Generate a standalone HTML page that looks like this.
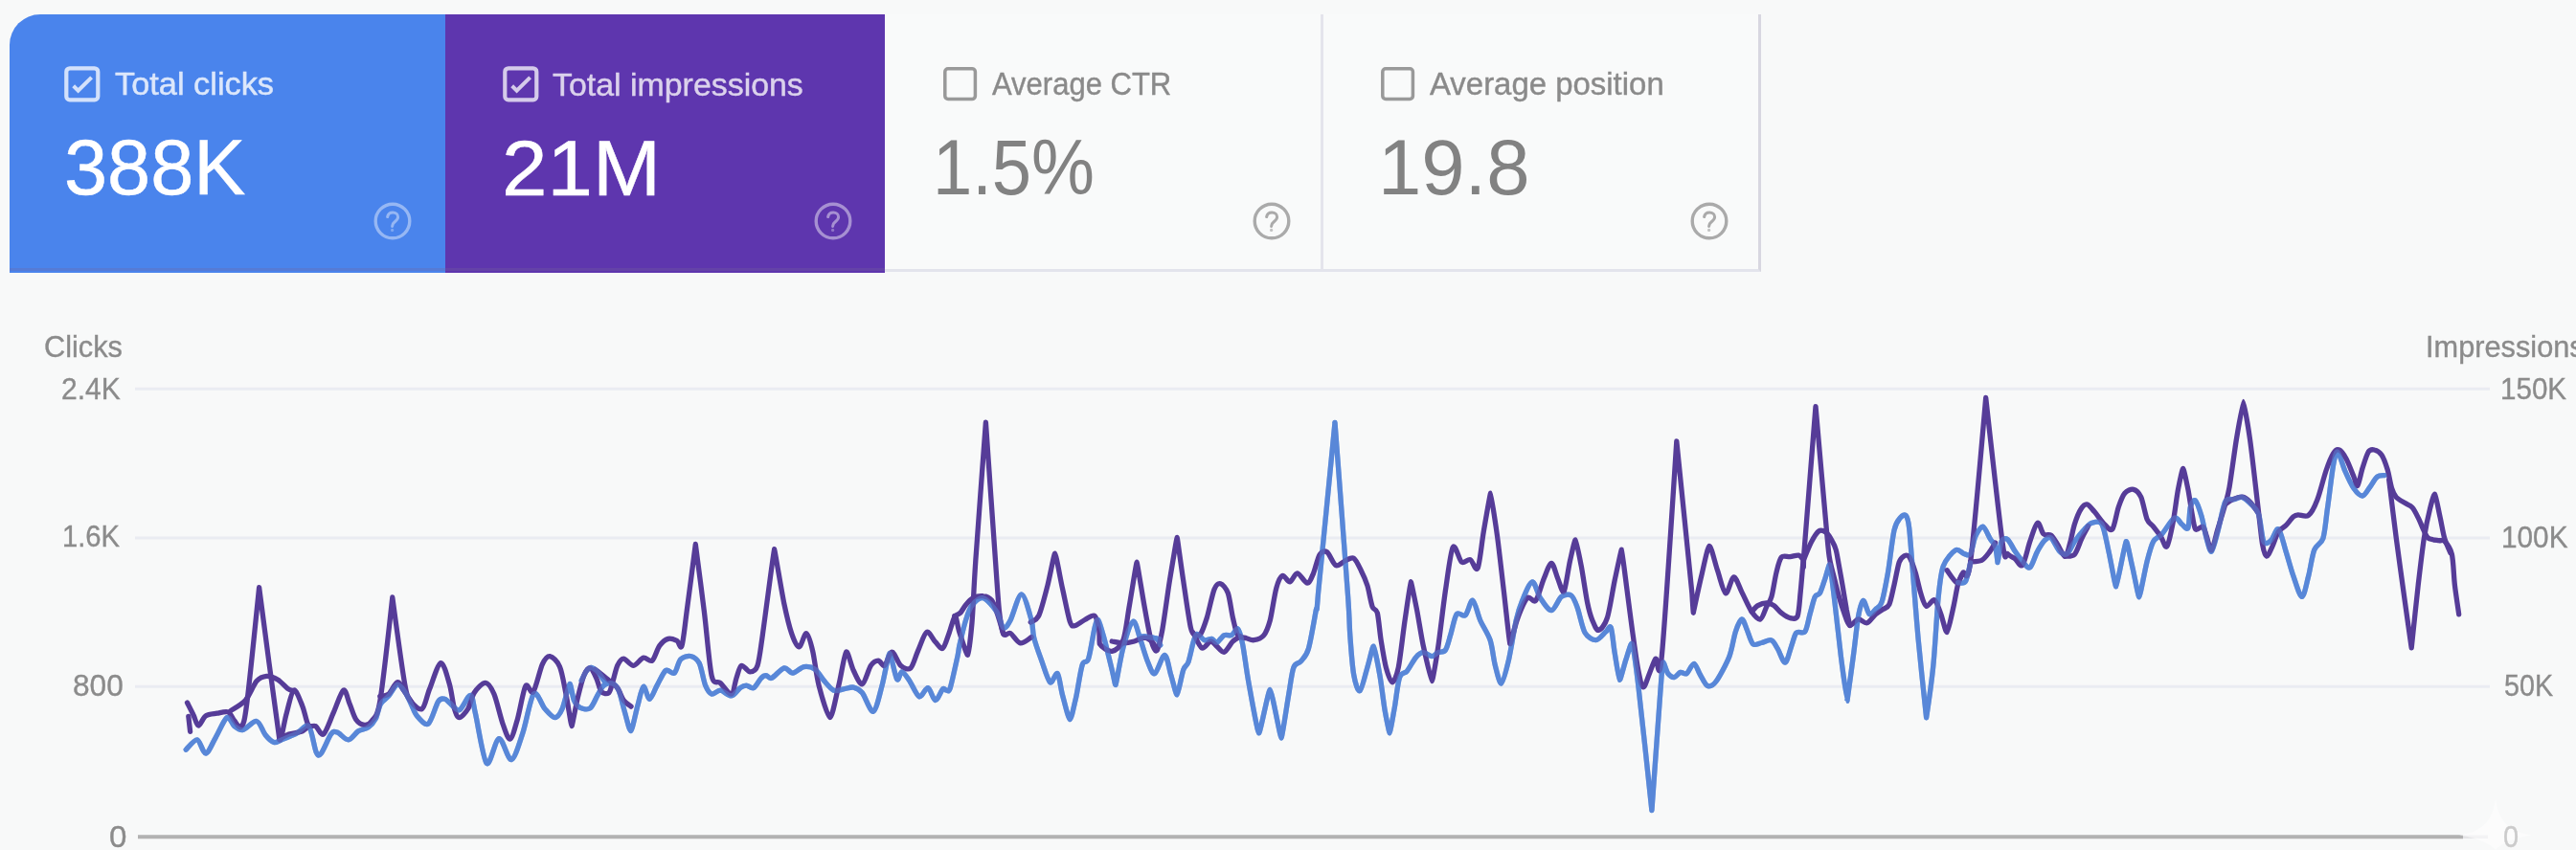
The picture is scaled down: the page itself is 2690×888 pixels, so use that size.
<!DOCTYPE html>
<html lang="en">
<head>
<meta charset="utf-8">
<title>Search Console Performance</title>
<style>
html,body{margin:0;padding:0;}
body{width:2690px;height:888px;overflow:hidden;background:#f8f9f9;font-family:"Liberation Sans",sans-serif;position:relative;}
.card{position:absolute;top:14.8px;height:269.4px;box-sizing:border-box;}
.c1,.c2{height:270.4px;}
.c1{left:10.4px;width:454.6px;background:#4a84ec;border-top-left-radius:32px;}
.c2{left:465px;width:458.8px;background:#5e36ae;}
.c3{left:923.8px;width:458px;border-bottom:3px solid #e3e4ec;border-right:3px solid #e4e4ec;background:#f9fafa;}
.c4{left:1381.8px;width:457.2px;border-bottom:3px solid #e3e4ec;border-right:3px solid #d8d7e0;background:#f9fafa;}
.t{position:absolute;line-height:1;white-space:nowrap;transform-origin:0 0;filter:blur(.45px);z-index:2;}
#chart .ln{filter:blur(.6px);}
svg{position:absolute;}
</style>
</head>
<body>
<div class="card c1"></div>
<div class="card c2"></div>
<div class="card c3"></div>
<div class="card c4"></div>
<div style="position:absolute;left:10.4px;top:280.3px;width:913.4px;height:2.8px;background:rgba(120,100,150,.26)"></div>
<svg style="left:67.1px;top:69.3px" width="38" height="38" viewBox="0 0 38 38"><g fill="none" stroke="#fff" stroke-opacity=".76"><rect x="2.3" y="2.3" width="33" height="33" rx="3.6" stroke-width="4.2"/><path d="M9.7 20.8 L14.6 25.6 L28.6 11.8" stroke-width="4"/></g></svg><svg style="left:524.6px;top:69.0px" width="38" height="38" viewBox="0 0 38 38"><g fill="none" stroke="#fff" stroke-opacity=".74"><rect x="2.3" y="2.3" width="33" height="33" rx="3.6" stroke-width="4.2"/><path d="M9.7 20.8 L14.6 25.6 L28.6 11.8" stroke-width="4"/></g></svg><svg style="left:985.3px;top:70.0px" width="36" height="36" viewBox="0 0 36 36"><rect x="1.8" y="1.8" width="31.6" height="31.6" rx="3.2" fill="none" stroke="#999" stroke-opacity="1" stroke-width="3.5"/></svg><svg style="left:1442.2px;top:70.0px" width="36" height="36" viewBox="0 0 36 36"><rect x="1.8" y="1.8" width="31.6" height="31.6" rx="3.2" fill="none" stroke="#999" stroke-opacity="1" stroke-width="3.5"/></svg>
<svg style="left:389.2px;top:210.2px" width="42" height="42" viewBox="0 0 42 42"><g fill="none" stroke="#fff" stroke-opacity=".42" stroke-width="3.4" stroke-linecap="round"><circle cx="21" cy="21" r="17.8"/><path d="M15.6 16.6 C16.2 13.4 18.4 12 21.2 12 C24.4 12 26.6 14 26.6 16.8 C26.6 19.2 25 20.4 23.2 21.8 C21.6 23 20.8 24.2 20.6 26.4" stroke-width="3"/></g><circle cx="20.6" cy="30.4" r="1.6" fill="#fff" fill-opacity=".42" opacity=".7"/></svg><svg style="left:848.7px;top:210.2px" width="42" height="42" viewBox="0 0 42 42"><g fill="none" stroke="#fff" stroke-opacity=".45" stroke-width="3.4" stroke-linecap="round"><circle cx="21" cy="21" r="17.8"/><path d="M15.6 16.6 C16.2 13.4 18.4 12 21.2 12 C24.4 12 26.6 14 26.6 16.8 C26.6 19.2 25 20.4 23.2 21.8 C21.6 23 20.8 24.2 20.6 26.4" stroke-width="3"/></g><circle cx="20.6" cy="30.4" r="1.6" fill="#fff" fill-opacity=".45" opacity=".7"/></svg><svg style="left:1307.3px;top:210.2px" width="42" height="42" viewBox="0 0 42 42"><g fill="none" stroke="#aaaaaa" stroke-opacity="1" stroke-width="3.4" stroke-linecap="round"><circle cx="21" cy="21" r="17.8"/><path d="M15.6 16.6 C16.2 13.4 18.4 12 21.2 12 C24.4 12 26.6 14 26.6 16.8 C26.6 19.2 25 20.4 23.2 21.8 C21.6 23 20.8 24.2 20.6 26.4" stroke-width="3"/></g><circle cx="20.6" cy="30.4" r="1.6" fill="#aaaaaa" fill-opacity="1" opacity=".7"/></svg><svg style="left:1764.0px;top:210.2px" width="42" height="42" viewBox="0 0 42 42"><g fill="none" stroke="#aaaaaa" stroke-opacity="1" stroke-width="3.4" stroke-linecap="round"><circle cx="21" cy="21" r="17.8"/><path d="M15.6 16.6 C16.2 13.4 18.4 12 21.2 12 C24.4 12 26.6 14 26.6 16.8 C26.6 19.2 25 20.4 23.2 21.8 C21.6 23 20.8 24.2 20.6 26.4" stroke-width="3"/></g><circle cx="20.6" cy="30.4" r="1.6" fill="#aaaaaa" fill-opacity="1" opacity=".7"/></svg>
<div class="t" id="t1" style="left:119.5px;top:71.4px;font-size:33.5px;color:#dce7fb;transform:scaleX(1.0251);-webkit-text-stroke:.45px #dce7fb;">Total clicks</div>
<div class="t" id="t2" style="left:577.0px;top:71.6px;font-size:33.5px;color:#dbd2ec;transform:scaleX(1.0117);-webkit-text-stroke:.45px #dbd2ec;">Total impressions</div>
<div class="t" id="t3" style="left:1036.0px;top:71.2px;font-size:33.5px;color:#8a8a8a;transform:scaleX(0.9254);-webkit-text-stroke:.4px #8a8a8a;">Average CTR</div>
<div class="t" id="t4" style="left:1492.6px;top:71.2px;font-size:33.5px;color:#8a8a8a;transform:scaleX(0.9830);-webkit-text-stroke:.4px #8a8a8a;">Average position</div>
<div class="t" id="v1" style="left:67.0px;top:134.4px;font-size:82.0px;color:#ffffff;transform:scaleX(0.9893);-webkit-text-stroke:.5px #fff;">388K</div>
<div class="t" id="v2" style="left:523.8px;top:134.6px;font-size:82.0px;color:#ffffff;transform:scaleX(1.0404);-webkit-text-stroke:.5px #fff;">21M</div>
<div class="t" id="v3" style="left:973.6px;top:134.2px;font-size:82.0px;color:#828282;transform:scaleX(0.9046);">1.5%</div>
<div class="t" id="v4" style="left:1439.0px;top:134.2px;font-size:82.0px;color:#828282;transform:scaleX(0.9933);">19.8</div>
<div class="t" id="a0" style="left:46.2px;top:347.2px;font-size:30.5px;color:#8b8b8b;transform:scaleX(1.0077);-webkit-text-stroke:.35px #8b8b8b;">Clicks</div>
<div class="t" id="a1" style="left:64.4px;top:390.8px;font-size:31.0px;color:#8b8b8b;transform:scaleX(0.9677);-webkit-text-stroke:.35px #8b8b8b;">2.4K</div>
<div class="t" id="a2" style="left:64.9px;top:545.4px;font-size:31.0px;color:#8b8b8b;transform:scaleX(0.9422);-webkit-text-stroke:.35px #8b8b8b;">1.6K</div>
<div class="t" id="a3" style="left:75.7px;top:701.4px;font-size:31.0px;color:#8b8b8b;transform:scaleX(1.0204);-webkit-text-stroke:.35px #8b8b8b;">800</div>
<div class="t" id="a4" style="left:113.6px;top:858.6px;font-size:31.0px;color:#8b8b8b;transform:scaleX(1.0667);-webkit-text-stroke:.35px #8b8b8b;">0</div>
<div class="t" id="b0" style="left:2532.7px;top:347.4px;font-size:30.5px;color:#8b8b8b;transform:scaleX(1.0077);-webkit-text-stroke:.35px #8b8b8b;">Impressions</div>
<div class="t" id="b1" style="left:2610.9px;top:390.8px;font-size:31.0px;color:#8b8b8b;transform:scaleX(0.9544);-webkit-text-stroke:.35px #8b8b8b;">150K</div>
<div class="t" id="b2" style="left:2612.2px;top:545.6px;font-size:31.0px;color:#8b8b8b;transform:scaleX(0.9602);-webkit-text-stroke:.35px #8b8b8b;">100K</div>
<div class="t" id="b3" style="left:2615.1px;top:701.4px;font-size:31.0px;color:#8b8b8b;transform:scaleX(0.9259);-webkit-text-stroke:.35px #8b8b8b;">50K</div>
<div class="t" id="b4" style="left:2613.5px;top:858.6px;font-size:31.0px;color:#cbcbcb;transform:scaleX(0.9333);-webkit-text-stroke:.35px #cbcbcb;">0</div>
<svg id="chart" style="left:0;top:0" width="2690" height="888" viewBox="0 0 2690 888">
  <g stroke="#eaecf2" stroke-width="3">
    <line x1="141" y1="406.3" x2="2600" y2="406.3"/>
    <line x1="141" y1="562" x2="2600" y2="562"/>
    <line x1="141" y1="717.3" x2="2600" y2="717.3"/>
  </g>
  <line x1="144" y1="874.3" x2="2572" y2="874.3" stroke="#b2b2b2" stroke-width="4"/>
  <line x1="2572" y1="874.3" x2="2598" y2="874.3" stroke="#e4e4e6" stroke-width="3.4"/>
  <path d="M2606 834 C2609 858 2620 869 2644 872.5 C2620 876 2609 884 2606 888 C2603 884 2592 876 2568 872.5 C2592 869 2603 858 2606 834 Z" fill="#fff" fill-opacity=".55"/>
<g class="ln" fill="none" stroke-linecap="round" stroke-linejoin="round" stroke-width="5.3">
<g stroke="#5887d8">
<path d="M194.2 783.2 C196.0 781.7 202.8 772.3 205.9 772.9 C209.0 773.5 212.0 787.5 215.0 787.1 C217.9 786.7 222.0 775.9 225.3 770.3 C228.6 764.7 234.0 751.3 237.0 749.6 C239.9 747.8 242.2 756.7 244.7 758.6 C247.2 760.6 250.3 763.3 253.8 762.5 C257.3 761.7 264.5 752.7 268.0 753.5 C271.5 754.2 274.4 764.4 277.1 767.7 C279.8 771.0 283.6 774.7 286.1 775.5 C288.7 776.2 290.4 774.2 293.9 772.9 C297.4 771.5 305.2 768.5 309.4 766.4 C313.7 764.3 319.3 755.7 322.4 758.6 C325.5 761.6 328.2 781.6 330.2 785.8 C332.1 790.1 333.0 790.0 335.3 787.1 C337.7 784.3 343.2 770.2 345.7 766.9 C348.2 763.6 349.4 764.2 352.2 765.1 C354.9 766.0 360.5 773.1 363.8 772.9 C367.1 772.7 371.1 765.8 374.2 763.8 C377.3 761.9 381.8 761.9 384.5 759.9 C387.2 758.0 390.4 754.6 392.3 750.9 C394.2 747.2 395.4 738.9 397.5 735.3 C399.5 731.8 403.3 730.1 405.9 727.1 C408.5 724.0 412.4 715.8 415.0 715.1 C417.5 714.4 420.6 719.4 422.7 722.4 C424.9 725.4 427.2 731.5 429.2 735.3 C431.1 739.2 432.9 745.2 435.7 748.3 C438.4 751.4 444.0 758.4 447.3 756.1 C450.6 753.7 455.1 736.6 457.7 732.8 C460.2 728.9 462.4 730.0 464.1 730.2 C465.9 730.4 467.0 732.3 469.3 734.0 C471.7 735.8 476.4 743.0 479.7 741.8 C483.0 740.6 488.8 725.7 491.3 726.3 C493.9 726.9 494.0 735.0 496.5 745.7 C499.0 756.4 504.6 793.7 508.2 797.5 C511.7 801.2 517.2 772.2 521.1 771.6 C525.0 771.0 530.4 794.4 534.0 793.6 C537.7 792.8 542.2 776.7 545.7 766.4 C549.2 756.1 553.9 728.9 557.3 725.0 C560.8 721.1 565.7 736.8 569.0 740.5 C572.3 744.2 576.6 749.6 579.4 749.6 C582.1 749.6 584.8 745.8 587.1 740.5 C589.4 735.3 593.7 715.5 594.9 714.6 C596.1 713.7 597.8 727.9 599.4 731.6 C601.1 735.3 603.4 738.1 605.9 739.4 C608.4 740.6 613.5 741.8 616.2 739.9 C619.0 737.9 621.9 730.0 624.0 726.4 C626.1 722.8 628.2 717.9 630.5 716.1 C632.8 714.2 637.2 713.2 639.5 714.0 C641.9 714.8 644.3 717.4 646.0 721.2 C647.8 725.0 649.3 733.0 651.2 739.4 C653.1 745.7 657.2 764.0 658.7 763.7 C660.2 763.4 664.0 743.7 666.0 736.8 C667.9 729.8 670.0 718.3 671.9 717.3 C673.8 716.4 676.2 730.5 678.4 730.3 C680.5 730.1 683.6 720.5 686.1 716.1 C688.7 711.6 692.5 702.5 695.2 700.5 C697.9 698.6 701.9 704.9 704.3 703.1 C706.6 701.4 708.2 691.5 710.7 688.9 C713.3 686.2 718.2 684.9 721.1 685.5 C724.0 686.1 727.8 688.2 730.2 692.8 C732.5 697.3 734.7 711.2 736.6 716.1 C738.6 720.9 740.8 724.3 743.1 725.1 C745.4 725.9 749.1 721.0 752.2 721.2 C755.3 721.5 760.7 727.3 763.8 726.9 C766.9 726.5 770.6 720.3 772.9 718.6 C775.2 717.0 777.2 716.1 779.4 716.1 C781.5 716.1 784.8 719.8 787.1 718.6 C789.4 717.5 792.9 710.2 794.9 708.3 C796.8 706.3 798.4 705.7 800.1 705.7 C801.7 705.7 803.1 709.4 805.9 708.3 C808.7 707.1 815.5 698.7 818.8 697.9 C822.1 697.2 824.8 703.3 827.9 703.1 C831.0 702.9 836.1 697.2 839.5 696.6 C843.0 696.1 848.1 697.1 851.2 699.2 C854.3 701.4 857.3 707.6 860.3 710.9 C863.2 714.2 867.5 719.9 870.6 721.2 C873.7 722.6 877.9 720.4 881.0 719.9 C884.1 719.5 888.4 717.5 891.3 718.1 C894.2 718.7 897.3 720.1 900.4 723.8 C903.5 727.6 908.9 744.4 912.0 743.2 C915.1 742.1 918.6 725.2 921.1 716.1 C923.6 706.9 927.6 682.9 928.9 682.4 C930.2 681.9 934.7 706.7 936.6 709.6 C938.6 712.5 939.9 701.6 941.8 701.8 C943.8 702.0 946.9 707.0 949.6 710.9 C952.3 714.8 957.0 726.5 959.9 727.7 C962.8 728.9 966.5 718.1 969.0 718.6 C971.5 719.2 974.4 731.4 976.8 731.6 C979.1 731.8 982.8 721.5 984.5 719.9 C986.3 718.4 987.2 721.4 988.4 721.2 C989.6 721.0 990.6 724.1 992.3 718.6 C994.0 713.2 998.6 691.7 1000.1 685.0 C1001.5 678.3 1000.7 679.5 1002.0 673.9 C1003.3 668.4 1006.5 654.2 1008.5 648.0 C1010.4 641.8 1012.2 636.0 1015.0 632.5 C1017.7 629.0 1022.7 623.8 1026.6 624.7 C1030.5 625.7 1037.7 634.3 1040.8 639.0 C1044.0 643.6 1045.7 654.4 1047.8 655.8 C1050.0 657.2 1052.2 653.3 1055.1 648.0 C1057.9 642.8 1063.4 620.8 1066.7 620.8 C1070.0 620.8 1075.1 641.2 1077.1 648.0 C1079.0 654.8 1078.1 659.9 1079.7 666.1 C1081.2 672.4 1084.9 682.5 1087.4 689.4 C1090.0 696.4 1094.0 710.6 1096.5 712.8 C1099.0 714.9 1102.3 701.7 1104.3 703.7 C1106.2 705.6 1107.5 718.5 1109.4 725.7 C1111.4 732.9 1115.7 751.3 1117.2 751.6 C1118.7 751.9 1121.7 736.8 1123.7 728.3 C1125.6 719.7 1128.2 700.6 1130.2 694.6 C1132.1 688.6 1134.7 694.0 1136.6 688.2 C1138.6 682.3 1141.6 661.8 1143.1 655.8 C1144.7 649.8 1145.4 646.1 1147.0 648.0 C1148.5 650.0 1151.3 661.0 1153.5 668.7 C1155.6 676.5 1159.5 692.8 1161.2 699.8 C1163.0 706.8 1164.4 716.8 1165.1 715.3 C1165.8 713.9 1170.2 686.4 1172.9 676.5 C1175.6 666.6 1180.5 650.5 1183.2 649.3 C1186.0 648.2 1188.7 662.3 1191.0 668.7 C1193.3 675.1 1196.5 686.8 1198.8 692.0 C1201.0 697.3 1203.3 704.9 1205.9 703.7 C1208.5 702.5 1213.7 684.1 1216.2 684.3 C1218.8 684.5 1220.8 698.8 1222.7 705.0 C1224.7 711.2 1227.9 726.2 1229.2 725.7 C1230.5 725.2 1233.9 704.9 1235.7 699.8 C1237.4 694.8 1239.3 696.3 1240.8 692.0 C1242.4 687.8 1244.7 675.8 1246.0 671.3 C1247.4 666.9 1248.2 662.7 1249.9 662.3 C1251.7 661.9 1255.3 668.0 1257.7 668.7 C1260.0 669.5 1263.5 667.1 1265.4 667.4 C1267.4 667.8 1268.7 671.9 1270.6 671.3 C1272.6 670.7 1276.1 664.7 1278.4 663.6 C1280.7 662.4 1284.0 664.5 1286.1 663.6 C1288.3 662.6 1290.9 655.5 1292.6 657.1 C1294.4 658.6 1296.1 665.2 1297.8 673.9 C1299.5 682.7 1301.7 701.6 1304.3 715.3 C1306.8 729.1 1313.2 765.5 1314.6 765.8 C1316.1 766.2 1324.5 720.1 1326.3 720.5 C1328.0 720.9 1337.0 770.8 1337.9 771.0 C1338.8 771.2 1343.8 736.8 1345.7 725.7 C1347.6 714.6 1348.9 702.5 1350.9 697.2 C1352.8 692.0 1356.3 693.7 1358.6 690.7 C1361.0 687.8 1364.1 685.8 1366.4 677.8 C1368.7 669.8 1372.7 646.3 1374.2 637.7 C1375.7 629.0 1374.2 649.5 1376.5 620.1 C1379.5 590.6 1394.0 441.4 1394.0 441.4 C1394.0 441.4 1405.0 586.7 1407.4 620.1 C1409.8 653.4 1408.8 650.8 1409.8 663.6 C1410.7 676.3 1412.1 696.2 1413.7 705.0 C1415.2 713.7 1418.1 722.9 1420.1 721.8 C1422.1 720.7 1425.8 704.2 1427.9 697.2 C1430.0 690.2 1433.3 674.6 1434.4 675.2 C1435.4 675.8 1439.1 695.1 1440.8 705.0 C1442.6 714.9 1444.5 732.1 1446.0 741.2 C1447.6 750.4 1450.7 765.9 1451.2 765.8 C1451.7 765.7 1454.8 747.4 1456.4 738.6 C1457.9 729.9 1459.6 713.2 1461.6 707.6 C1463.5 701.9 1466.8 704.2 1469.3 701.1 C1471.8 698.0 1475.9 689.8 1478.4 686.9 C1480.9 683.9 1483.6 681.9 1486.1 681.7 C1488.7 681.5 1492.9 685.6 1495.2 685.6 C1497.5 685.6 1499.5 682.7 1501.7 681.7 C1503.8 680.7 1507.5 681.8 1509.4 679.1 C1511.4 676.4 1512.9 669.2 1514.6 663.6 C1516.4 657.9 1518.8 644.7 1521.1 641.6 C1523.4 638.4 1527.6 645.0 1530.2 642.8 C1532.7 640.7 1535.6 626.5 1537.9 627.3 C1540.3 628.1 1543.0 641.8 1545.7 648.0 C1548.4 654.2 1553.7 661.7 1556.1 668.7 C1558.4 675.7 1559.5 687.8 1561.2 694.6 C1563.0 701.4 1565.9 714.7 1567.7 714.0 C1569.5 713.4 1573.1 699.4 1575.5 689.4 C1577.8 679.5 1581.1 657.3 1583.2 648.0 C1585.4 638.7 1587.2 633.3 1589.7 627.3 C1592.2 621.3 1597.2 608.3 1600.1 607.9 C1602.9 607.5 1605.5 620.3 1608.5 624.7 C1611.5 629.2 1616.8 637.9 1620.1 637.7 C1623.4 637.5 1627.4 625.8 1630.5 623.4 C1633.6 621.1 1638.3 620.4 1640.8 622.1 C1643.4 623.9 1645.2 629.3 1647.3 635.1 C1649.4 640.9 1652.2 655.9 1655.1 661.0 C1658.0 666.0 1663.4 668.9 1666.7 668.7 C1670.0 668.5 1674.8 661.6 1677.1 659.7 C1679.4 657.7 1680.9 652.5 1682.3 655.8 C1683.6 659.1 1684.8 673.5 1686.1 681.7 C1687.5 689.8 1690.4 709.6 1691.3 710.2 C1692.2 710.8 1695.9 695.1 1697.8 689.4 C1699.7 683.8 1703.1 670.3 1704.3 672.6 C1705.4 674.9 1707.6 689.2 1710.7 715.3 C1713.8 741.4 1724.9 846.6 1724.9 846.6 C1724.9 846.6 1732.3 743.7 1734.0 720.5 C1735.8 697.3 1736.0 693.5 1736.6 692.0 C1737.3 690.6 1740.1 701.4 1741.8 703.7 C1743.6 706.0 1746.3 707.8 1748.3 707.6 C1750.2 707.4 1752.8 703.0 1754.8 702.4 C1756.7 701.8 1759.1 705.0 1761.2 703.7 C1763.4 702.3 1766.9 693.1 1769.0 693.3 C1771.1 693.5 1773.3 701.5 1775.5 705.0 C1777.6 708.5 1780.7 715.7 1783.2 716.6 C1785.8 717.6 1788.9 716.1 1792.3 711.5 C1795.7 706.8 1802.9 693.4 1805.9 685.7 C1808.9 677.9 1810.4 665.6 1812.4 659.8 C1814.3 654.0 1817.1 647.2 1818.8 646.9 C1820.6 646.5 1822.3 653.3 1824.0 657.2 C1825.8 661.1 1828.2 670.6 1830.5 672.8 C1832.8 674.9 1836.6 672.0 1839.5 671.5 C1842.5 670.9 1847.4 667.9 1849.9 668.9 C1852.4 669.8 1854.2 674.4 1856.4 677.9 C1858.5 681.4 1862.0 692.6 1864.1 692.2 C1866.3 691.8 1868.9 680.0 1870.6 675.3 C1872.4 670.7 1873.7 663.4 1875.8 661.1 C1877.9 658.8 1882.7 662.7 1884.9 659.8 C1887.0 656.9 1888.5 647.1 1890.0 641.7 C1891.6 636.2 1893.7 626.9 1895.2 623.6 C1896.8 620.3 1898.8 622.4 1900.4 619.7 C1901.9 617.0 1904.0 609.9 1905.6 605.4 C1907.1 601.0 1910.1 588.4 1910.7 589.9 C1911.4 591.4 1914.2 614.4 1915.9 628.7 C1917.7 643.1 1920.5 670.2 1922.4 685.7 C1924.3 701.2 1928.8 732.3 1928.9 732.3 C1928.9 732.3 1933.6 698.9 1935.3 685.7 C1937.1 672.5 1939.0 653.0 1940.5 644.3 C1942.1 635.5 1943.9 627.8 1945.7 627.4 C1947.4 627.1 1950.2 640.3 1952.2 641.7 C1954.1 643.0 1956.7 638.4 1958.6 636.5 C1960.6 634.6 1963.2 634.6 1965.1 628.7 C1967.1 622.9 1969.6 608.9 1971.6 597.7 C1973.5 586.4 1976.1 562.2 1978.1 553.7 C1980.0 545.1 1982.7 543.0 1984.5 540.7 C1986.4 538.5 1988.9 537.1 1990.2 538.6 C1991.6 540.2 1992.5 542.2 1993.6 551.1 C1994.7 559.9 1996.0 579.9 1997.5 597.7 C1998.9 615.4 2001.2 646.4 2003.3 669.3 C2005.4 692.1 2011.6 749.8 2011.6 749.8 C2011.6 749.8 2017.0 714.0 2018.8 695.4 C2020.7 676.8 2022.5 641.1 2024.0 625.5 C2025.6 609.9 2026.5 599.2 2029.2 591.6 C2031.9 584.0 2038.8 576.7 2042.1 574.8 C2045.4 572.8 2048.9 578.1 2051.2 578.6 C2053.5 579.2 2055.9 581.4 2057.7 578.6 C2059.4 575.9 2060.9 564.8 2062.8 560.5 C2064.8 556.2 2068.3 549.8 2070.6 550.2 C2072.9 550.6 2076.4 560.0 2078.4 563.1 C2080.3 566.2 2082.4 567.2 2083.6 570.9 C2084.7 574.6 2086.0 587.8 2086.1 587.7 C2086.3 587.6 2088.5 569.3 2090.0 565.7 C2091.6 562.1 2094.4 562.1 2096.5 563.6 C2098.6 565.2 2101.9 572.6 2104.3 576.1 C2106.6 579.5 2109.7 583.9 2112.0 586.4 C2114.4 588.9 2117.5 594.4 2119.8 592.9 C2122.1 591.3 2125.2 580.3 2127.6 576.1 C2129.9 571.8 2133.2 566.5 2135.3 564.4 C2137.5 562.3 2139.5 560.1 2141.8 561.8 C2144.1 563.6 2148.3 573.5 2150.9 576.1 C2153.4 578.6 2156.3 580.2 2158.6 578.6 C2161.0 577.1 2163.7 569.6 2166.4 565.7 C2169.1 561.8 2174.0 555.7 2176.8 552.8 C2179.5 549.8 2181.8 547.1 2184.5 546.3 C2187.2 545.5 2192.3 543.1 2194.9 547.6 C2197.5 552.0 2199.8 566.3 2202.0 576.1 C2204.2 585.8 2208.8 613.4 2209.8 612.8 C2210.8 612.2 2219.0 567.2 2220.1 565.7 C2221.3 564.2 2224.5 582.9 2226.6 591.6 C2228.7 600.3 2232.9 624.0 2233.9 623.7 C2234.8 623.4 2239.9 595.1 2242.1 586.4 C2244.3 577.7 2246.3 570.0 2248.6 565.7 C2250.9 561.4 2254.4 561.6 2257.7 557.9 C2261.0 554.2 2267.5 542.7 2270.6 541.1 C2273.7 539.5 2276.2 546.0 2278.4 547.6 C2280.5 549.1 2283.5 554.2 2284.9 551.5 C2286.2 548.7 2286.3 533.7 2287.4 529.4 C2288.6 525.2 2290.9 521.4 2292.6 523.0 C2294.4 524.5 2297.3 533.8 2299.1 539.8 C2300.8 545.8 2302.7 557.7 2304.3 563.1 C2305.8 568.5 2307.8 577.2 2309.4 576.1 C2311.1 574.9 2313.8 563.1 2315.9 555.3 C2318.1 547.6 2321.2 529.3 2323.7 524.3 C2326.2 519.2 2330.0 522.4 2332.8 521.7 C2335.5 521.0 2339.1 518.8 2341.8 519.6 C2344.5 520.4 2348.3 524.2 2350.9 526.9 C2353.4 529.5 2356.7 531.4 2358.6 537.2 C2360.6 543.0 2361.9 561.6 2363.8 565.7 C2365.8 569.8 2369.3 566.3 2371.6 564.4 C2373.9 562.5 2377.0 551.0 2379.4 552.8 C2381.7 554.5 2384.8 568.7 2387.1 576.1 C2389.4 583.4 2392.4 594.8 2394.9 601.9 C2397.4 609.1 2401.5 623.4 2403.8 623.4 C2406.2 623.5 2408.6 609.4 2410.6 602.0 C2412.5 594.7 2414.4 580.5 2416.7 574.5 C2419.0 568.6 2423.8 568.7 2425.9 562.3 C2427.9 555.9 2428.8 543.2 2430.4 531.7 C2432.1 520.3 2435.0 494.8 2436.6 485.9 C2438.2 476.9 2439.4 471.2 2441.1 472.1 C2442.9 473.0 2446.3 486.2 2448.8 492.0 C2451.3 497.7 2455.2 506.4 2458.0 510.3 C2460.7 514.2 2464.6 518.2 2467.1 518.0 C2469.7 517.7 2472.5 511.8 2474.8 508.8 C2477.1 505.8 2480.1 499.9 2482.4 498.1 C2484.7 496.3 2488.9 496.8 2490.1 496.6"/>
<path d="M607.2 710.9 C608.0 709.4 610.8 703.1 612.4 701.0 C613.9 699.0 615.6 697.1 617.5 697.4 C619.5 697.7 623.2 700.8 625.3 703.1 C627.4 705.4 630.8 711.5 631.8 712.9"/>
<path d="M1194.9 664.9 C1196.8 665.2 1205.3 666.1 1207.8 667.4 C1210.4 668.8 1211.1 672.9 1211.7 673.9"/>
<path d="M1190.4 664.9 C1191.9 665.0 1197.7 665.2 1200.7 665.6 C1203.7 666.0 1209.1 667.2 1210.6 667.4"/>
<path d="M2044.7 608.7 C2045.9 608.5 2050.6 610.5 2052.5 607.4 C2054.4 604.3 2056.9 590.9 2057.7 588.0"/>
</g>
<g stroke="#563c98">
<path d="M195.5 734.0 C196.5 736.0 200.3 743.4 202.0 747.0 C203.8 750.6 205.2 758.0 207.2 758.1 C209.1 758.2 212.0 749.7 215.0 747.8 C217.9 745.8 223.1 745.8 226.6 745.2 C230.1 744.6 235.5 742.7 238.3 743.9 C241.0 745.0 242.7 750.7 244.7 752.9 C246.8 755.2 250.0 761.8 252.0 759.2 C253.9 756.5 254.9 757.2 257.7 735.3 C260.5 713.5 270.6 613.7 270.6 613.7 C270.6 613.7 290.5 765.8 291.8 772.1 C293.2 778.4 296.8 753.3 299.1 745.7 C301.3 738.0 304.3 722.3 306.9 721.1 C309.4 719.9 313.7 732.5 315.9 737.9 C318.2 743.4 319.8 754.2 321.9 757.3 C323.9 760.5 327.2 757.2 329.6 758.6 C332.1 760.1 335.1 769.1 337.9 766.9 C340.7 764.8 345.2 751.3 348.3 744.4 C351.4 737.5 356.1 722.5 358.6 721.1 C361.2 719.7 363.2 730.8 365.1 735.3 C367.1 739.9 369.3 748.1 371.6 751.4 C373.9 754.7 378.1 757.1 380.6 757.3 C383.2 757.6 386.0 756.8 388.4 752.9 C390.9 749.1 393.8 750.8 397.0 731.5 C400.2 712.1 409.8 624.0 409.8 624.0 C409.8 624.0 419.8 698.3 422.7 714.6 C425.6 730.9 426.5 728.9 429.2 732.8 C431.9 736.6 437.9 742.5 440.8 740.5 C443.8 738.6 445.7 727.0 448.6 719.8 C451.5 712.6 457.2 693.4 460.3 692.6 C463.4 691.8 467.2 707.4 469.3 714.6 C471.5 721.8 472.9 735.3 474.5 740.5 C476.1 745.8 477.5 749.6 479.7 749.6 C481.8 749.6 486.4 744.4 488.7 740.5 C491.1 736.6 492.5 727.8 495.2 723.7 C497.9 719.6 503.8 713.1 506.9 713.3 C510.0 713.5 513.2 718.6 515.9 725.0 C518.6 731.4 522.5 749.0 525.0 756.1 C527.5 763.1 530.4 772.9 532.8 772.1 C535.1 771.3 538.1 759.2 540.5 750.9 C542.9 742.6 546.4 720.9 548.8 716.7 C551.2 712.5 554.2 726.3 556.8 722.9 C559.5 719.5 563.8 699.5 566.4 693.9 C569.0 688.3 571.5 685.2 574.2 685.6 C576.9 686.0 582.0 690.6 584.5 696.5 C587.1 702.4 589.1 715.7 591.0 725.0 C592.9 734.3 596.4 758.5 597.0 758.6 C597.5 758.8 601.4 736.9 603.3 729.0 C605.2 721.1 607.8 710.4 609.8 705.7 C611.7 701.0 614.3 697.5 616.2 697.9 C618.2 698.3 621.0 704.6 622.7 708.3 C624.5 712.0 626.0 720.2 627.9 722.5 C629.8 724.9 633.9 725.2 635.7 723.8 C637.4 722.5 638.2 717.7 639.5 713.5 C640.9 709.2 643.0 699.1 644.7 695.3 C646.5 691.5 648.7 688.1 651.2 688.1 C653.7 688.1 658.4 695.5 661.6 695.3 C664.7 695.2 669.0 687.8 671.9 687.1 C674.8 686.3 678.4 692.0 681.0 690.2 C683.5 688.3 686.2 678.0 688.7 674.6 C691.3 671.2 695.1 668.2 697.8 667.4 C700.5 666.6 704.7 668.4 706.9 669.4 C709.0 670.5 710.5 679.3 712.0 674.6 C713.6 670.0 715.1 654.3 717.2 638.4 C719.4 622.5 726.3 568.5 726.3 568.5 C726.3 568.5 732.8 617.8 735.3 638.4 C737.9 659.0 740.6 694.4 743.1 705.7 C745.6 717.0 749.1 710.6 752.2 713.5 C755.3 716.4 761.3 725.9 763.8 725.1 C766.3 724.3 767.4 712.8 769.0 708.3 C770.6 703.8 772.0 696.3 774.2 695.3 C776.3 694.4 780.7 701.8 783.2 701.8 C785.8 701.8 789.1 701.0 791.0 695.3 C792.9 689.7 793.6 682.5 796.2 664.3 C798.8 646.0 808.1 574.3 808.5 573.7 C808.9 573.0 816.1 617.4 818.8 630.6 C821.6 643.8 824.3 654.9 826.6 661.7 C828.9 668.5 832.0 675.9 834.4 675.9 C836.7 675.9 840.0 661.1 842.1 661.7 C844.3 662.3 846.7 671.7 848.6 679.8 C850.6 688.0 852.4 705.6 855.1 716.1 C857.8 726.5 864.4 749.7 866.7 749.7 C869.1 749.7 873.3 726.3 875.8 716.1 C878.3 705.8 881.8 682.9 883.6 681.1 C885.4 679.3 888.8 695.5 891.3 700.5 C893.9 705.6 897.7 715.5 900.4 714.8 C903.1 714.0 906.9 699.0 909.4 695.3 C912.0 691.7 915.1 690.2 917.2 690.2 C919.4 690.2 921.6 696.7 923.7 695.3 C925.8 694.0 928.9 681.1 931.5 681.1 C934.0 681.1 937.6 692.8 940.5 695.3 C943.4 697.9 948.2 700.3 950.9 697.9 C953.6 695.6 956.1 685.4 958.6 679.8 C961.2 674.2 965.0 661.7 967.7 660.4 C970.4 659.0 974.2 668.2 976.8 670.7 C979.3 673.3 982.4 678.6 984.5 677.2 C986.7 675.9 989.1 666.7 991.0 661.7 C992.9 656.6 996.2 643.6 997.5 643.6 C998.7 643.5 1000.0 654.9 1002.0 661.0 C1004.0 667.1 1009.6 685.1 1010.6 684.3 C1011.5 683.5 1013.7 665.4 1015.0 650.6 C1016.2 635.9 1016.7 617.3 1018.8 585.9 C1021.0 554.5 1029.4 441.2 1029.4 441.2 C1029.4 441.2 1037.4 556.4 1039.5 585.9 C1041.6 615.4 1042.2 626.2 1043.4 637.7 C1044.7 649.1 1046.1 658.7 1047.8 662.3 C1049.6 665.8 1052.4 660.1 1055.1 661.5 C1057.7 662.9 1062.1 671.2 1065.4 671.8 C1068.7 672.5 1075.3 666.6 1077.1 665.6"/>
<path d="M1076.3 650.1 C1077.6 649.0 1082.2 648.6 1084.9 642.8 C1087.5 637.1 1091.4 621.5 1093.9 611.8 C1096.4 602.1 1100.7 578.0 1101.7 578.1 C1102.6 578.3 1107.1 603.7 1109.4 614.4 C1111.8 625.0 1115.3 643.4 1117.2 649.3 C1119.2 655.2 1120.1 654.0 1122.4 653.7 C1124.7 653.4 1129.6 649.1 1132.8 647.5 C1135.9 646.0 1140.9 641.7 1143.1 643.4 C1145.4 645.0 1147.0 654.0 1147.8 658.4 C1148.3 662.8 1147.8 669.3 1148.3 672.6 C1150.3 675.9 1157.5 681.0 1161.2 680.4 C1164.9 679.8 1170.2 675.9 1172.9 668.7 C1175.6 661.6 1177.2 644.7 1179.4 632.5 C1181.5 620.3 1186.7 587.2 1187.1 587.2 C1187.5 587.2 1192.7 620.3 1194.9 632.5 C1197.1 644.7 1200.0 661.7 1202.0 668.7 C1204.0 675.8 1206.2 681.2 1208.0 679.6 C1209.7 678.1 1211.6 669.3 1213.7 658.4 C1215.7 647.4 1219.1 621.2 1221.4 606.6 C1223.8 592.0 1228.9 561.3 1229.2 561.3 C1229.4 561.3 1233.5 592.4 1235.7 606.6 C1237.8 620.8 1241.5 647.2 1243.4 655.8 C1245.4 664.3 1247.1 662.6 1248.6 663.6 C1250.2 664.5 1252.0 665.0 1253.8 662.3 C1255.5 659.5 1258.1 652.4 1260.3 645.4 C1262.4 638.4 1265.9 621.0 1268.0 615.7 C1270.2 610.3 1272.4 609.1 1274.5 609.7 C1276.6 610.3 1280.3 614.2 1282.3 619.5 C1284.2 624.9 1285.9 638.8 1287.4 645.4 C1289.0 652.0 1290.5 660.4 1292.6 663.6 C1294.8 666.7 1299.2 665.9 1301.7 666.7 C1304.2 667.4 1306.7 669.2 1309.4 668.7 C1312.2 668.3 1317.3 666.7 1319.8 663.6 C1322.3 660.5 1324.3 655.4 1326.3 648.0 C1328.2 640.6 1330.8 621.4 1332.8 614.4 C1334.7 607.4 1337.1 602.4 1339.2 601.4 C1341.4 600.5 1344.7 608.3 1347.0 607.9 C1349.3 607.5 1352.0 598.6 1354.8 598.8 C1357.5 599.0 1362.6 609.2 1365.1 609.2 C1367.6 609.2 1369.6 603.3 1371.6 598.8 C1373.5 594.4 1375.9 582.7 1378.1 579.4 C1380.2 576.1 1383.3 575.2 1385.8 576.8 C1388.3 578.5 1392.1 589.2 1394.9 590.6 C1397.7 591.9 1401.8 587.0 1404.6 585.9 C1407.4 584.8 1411.1 581.7 1413.7 583.3 C1416.2 584.9 1419.3 592.0 1421.4 596.2 C1423.6 600.5 1426.1 606.1 1427.9 611.8 C1429.6 617.4 1431.5 629.5 1433.1 633.8 C1434.6 638.1 1436.9 635.0 1438.3 640.3 C1439.6 645.5 1440.8 660.2 1442.1 668.7 C1443.5 677.3 1445.6 690.6 1447.3 697.2 C1449.1 703.8 1451.8 712.8 1453.8 712.8 C1455.7 712.8 1458.3 706.5 1460.3 697.2 C1462.2 687.9 1464.8 664.0 1466.7 650.6 C1468.7 637.2 1472.7 608.4 1473.2 607.9 C1473.7 607.4 1477.7 627.8 1479.7 637.7 C1481.6 647.6 1483.8 662.8 1486.1 673.9 C1488.5 685.0 1494.4 711.3 1495.2 711.5 C1496.1 711.6 1499.5 690.7 1501.7 676.5 C1503.8 662.3 1507.1 632.7 1509.4 617.0 C1511.8 601.2 1514.7 576.1 1517.2 571.7 C1519.7 567.2 1523.6 585.2 1526.3 587.2 C1529.0 589.1 1532.8 583.6 1535.3 584.6 C1537.9 585.6 1541.0 598.0 1543.1 593.7 C1545.2 589.3 1547.3 567.1 1549.3 555.3 C1551.3 543.6 1556.2 515.1 1556.6 515.2 C1556.9 515.3 1561.5 545.3 1563.6 560.5 C1565.6 575.8 1568.3 600.1 1570.3 617.0 C1572.3 633.8 1576.1 671.1 1576.8 672.6 C1577.5 674.1 1581.8 653.9 1584.5 646.7 C1587.2 639.5 1592.0 627.6 1594.9 624.7 C1597.8 621.8 1601.2 630.4 1603.8 627.3 C1606.4 624.2 1609.9 609.8 1612.4 604.0 C1614.8 598.2 1618.0 588.5 1620.1 588.5 C1622.3 588.5 1624.7 599.5 1626.6 604.0 C1628.5 608.5 1631.5 620.5 1633.1 618.3 C1634.7 616.0 1637.7 594.0 1639.5 585.9 C1641.4 577.7 1644.4 563.5 1645.2 563.9 C1646.1 564.3 1649.3 581.2 1651.2 591.1 C1653.1 601.0 1655.9 621.4 1657.7 629.9 C1659.4 638.4 1661.1 643.8 1662.8 648.0 C1664.6 652.3 1667.0 658.8 1669.3 658.4 C1671.7 658.0 1675.9 653.2 1678.4 645.4 C1680.9 637.7 1683.9 617.3 1686.1 606.6 C1688.4 595.9 1693.0 573.9 1693.4 574.2 C1693.8 574.6 1697.3 603.2 1699.1 617.0 C1700.9 630.7 1703.8 653.7 1705.6 666.1 C1707.3 678.6 1709.2 692.0 1710.7 699.8 C1712.3 707.6 1714.2 717.3 1715.9 717.9 C1717.7 718.5 1720.5 708.2 1722.4 703.7 C1724.3 699.2 1726.9 690.9 1728.9 688.2 C1730.8 685.4 1732.1 719.7 1735.3 685.6 C1738.6 651.5 1750.8 460.8 1750.8 460.8 C1750.8 460.8 1764.3 593.3 1766.9 620.1 C1768.5 646.8 1768.4 639.2 1768.5 639.0 C1768.6 638.7 1774.3 611.7 1776.8 601.4 C1779.2 591.1 1783.2 570.9 1785.0 570.4 C1786.9 569.8 1791.0 588.8 1793.6 596.2 C1796.1 603.6 1799.5 618.7 1802.0 619.7 C1804.6 620.7 1808.0 603.0 1810.6 602.8 C1813.1 602.7 1816.0 612.9 1818.8 618.4 C1821.6 623.8 1826.3 634.8 1829.2 639.1 C1832.1 643.4 1835.9 647.6 1838.3 646.9 C1840.6 646.1 1843.0 637.4 1844.7 633.9 C1846.5 630.4 1848.3 629.0 1849.9 623.6 C1851.5 618.1 1853.5 603.9 1855.1 597.7 C1856.6 591.5 1858.1 584.5 1860.3 582.1 C1862.4 579.7 1866.6 581.9 1869.3 581.6 C1872.0 581.3 1876.3 579.6 1878.4 580.1 C1880.4 580.5 1882.3 584.6 1883.0 584.7 C1883.6 584.9 1883.0 605.1 1883.6 581.1 C1885.5 557.1 1896.0 424.6 1896.0 424.6 C1896.0 424.6 1905.7 535.6 1907.9 559.6 C1910.1 583.6 1909.7 578.0 1910.7 584.5 C1911.8 590.9 1913.7 596.9 1915.1 602.6 C1916.5 608.3 1918.5 616.7 1920.1 622.3 C1921.6 627.8 1923.8 635.0 1925.5 639.6 C1927.2 644.3 1929.2 652.2 1931.5 653.3 C1933.7 654.4 1937.8 647.2 1940.5 646.9 C1943.2 646.5 1946.9 651.5 1949.6 650.7 C1952.3 650.0 1956.1 643.8 1958.6 641.7 C1961.2 639.5 1964.3 638.1 1966.4 636.5 C1968.5 635.0 1971.1 635.2 1972.9 631.3 C1974.6 627.4 1976.5 617.2 1978.1 610.6 C1979.6 604.0 1981.7 591.8 1983.2 587.3 C1984.8 582.8 1986.9 581.7 1988.4 580.8 C1990.0 580.0 1991.8 579.1 1993.6 581.6 C1995.3 584.1 1998.2 591.9 2000.1 597.7 C2001.9 603.5 2004.2 615.0 2005.9 620.3 C2007.6 625.7 2009.4 632.3 2011.6 633.3 C2013.7 634.2 2017.9 625.6 2020.1 626.8 C2022.4 628.0 2024.7 636.0 2026.6 641.0 C2028.5 646.1 2031.7 661.0 2033.1 660.5 C2034.5 659.9 2037.8 643.4 2039.5 635.9 C2041.3 628.3 2043.2 615.6 2044.7 610.0 C2046.3 604.3 2048.0 601.8 2049.9 598.3 C2051.8 594.9 2054.1 614.3 2057.7 586.9 C2061.2 559.5 2073.7 415.5 2073.7 415.5 C2073.7 415.5 2087.9 543.8 2091.3 568.3 C2094.7 592.8 2094.6 576.3 2096.5 578.6 C2098.4 581.0 2101.9 582.1 2104.3 583.8 C2106.6 585.6 2109.7 593.0 2112.0 590.3 C2114.4 587.6 2117.5 572.3 2119.8 565.7 C2122.1 559.1 2125.4 547.4 2127.6 546.3 C2129.7 545.1 2131.9 556.0 2134.0 557.9 C2136.2 559.9 2139.7 557.7 2141.8 559.2 C2143.9 560.8 2146.1 565.0 2148.3 568.3 C2150.5 571.6 2154.6 581.4 2156.6 581.2 C2158.6 581.0 2160.3 572.0 2161.7 567.0 C2163.2 561.9 2164.7 552.8 2166.4 547.6 C2168.1 542.3 2170.9 535.1 2172.9 532.0 C2174.8 528.9 2177.2 526.5 2179.4 526.9 C2181.5 527.2 2184.4 531.5 2187.1 534.6 C2189.8 537.7 2194.7 544.9 2197.5 547.6 C2200.3 550.3 2203.7 555.5 2205.9 552.8 C2208.1 550.0 2210.4 535.1 2212.4 529.4 C2214.3 523.8 2216.5 517.9 2218.8 515.2 C2221.2 512.5 2225.4 510.7 2227.9 511.3 C2230.4 511.9 2233.5 514.4 2235.7 519.1 C2237.8 523.8 2240.2 537.7 2242.1 542.4 C2244.1 547.1 2246.5 547.4 2248.6 550.2 C2250.7 552.9 2254.2 557.4 2256.4 560.5 C2258.5 563.6 2260.9 573.2 2262.8 570.9 C2264.8 568.5 2267.6 553.9 2269.3 545.0 C2271.1 536.1 2272.9 519.7 2274.5 511.3 C2276.1 503.0 2279.0 489.3 2279.7 489.3 C2280.4 489.3 2283.5 504.5 2284.9 511.3 C2286.2 518.1 2287.6 528.4 2288.7 534.6 C2289.9 540.8 2290.9 550.4 2292.6 552.8 C2294.4 555.1 2298.6 549.0 2300.4 550.2 C2302.1 551.3 2302.9 556.8 2304.3 560.5 C2305.6 564.2 2308.0 575.8 2309.4 574.8 C2310.9 573.8 2313.8 559.9 2315.9 552.8 C2318.1 545.6 2321.9 533.5 2323.7 526.9 C2325.5 520.3 2326.3 518.8 2328.1 508.7 C2329.8 498.6 2333.2 472.9 2335.3 459.5 C2337.5 446.1 2342.2 419.4 2342.6 419.4 C2343.0 419.4 2347.4 443.8 2349.6 459.5 C2351.8 475.3 2355.4 508.0 2357.3 524.3 C2359.3 540.6 2361.1 559.7 2362.5 568.3 C2364.0 576.8 2365.4 580.8 2366.9 581.2 C2368.5 581.6 2371.0 574.8 2372.9 570.9 C2374.7 567.0 2377.2 558.6 2379.4 555.3 C2381.5 552.0 2384.8 551.2 2387.1 548.9 C2389.4 546.5 2393.0 541.5 2394.9 539.8 C2396.8 538.2 2397.5 538.0 2399.9 537.8 C2402.2 537.6 2407.6 540.7 2410.6 538.4 C2413.6 536.2 2417.0 529.5 2419.7 522.5 C2422.5 515.6 2426.4 499.3 2428.9 492.0 C2431.4 484.6 2434.5 476.9 2436.6 473.6 C2438.6 470.3 2440.6 469.0 2442.7 470.0 C2444.7 470.9 2448.0 475.5 2450.3 479.7 C2452.6 484.0 2456.2 494.0 2458.0 498.1 C2459.7 502.2 2460.6 508.6 2461.9 507.3 C2463.3 505.9 2465.4 494.2 2467.1 488.9 C2468.8 483.6 2471.4 474.9 2473.2 472.1 C2475.1 469.3 2477.3 469.5 2479.4 470.0 C2481.4 470.4 2484.9 472.1 2487.0 475.2 C2489.1 478.2 2491.5 485.2 2493.1 490.4 C2494.7 495.7 2496.3 506.0 2497.7 510.3 C2499.1 514.7 2500.2 517.2 2502.3 519.5 C2504.4 521.8 2508.9 524.0 2511.5 525.6 C2514.0 527.2 2517.0 527.9 2519.1 530.2 C2521.2 532.5 2523.4 537.2 2525.2 540.9 C2527.1 544.6 2529.7 551.4 2531.3 554.7 C2532.9 557.9 2533.6 560.8 2535.9 562.3 C2538.2 563.8 2544.1 564.3 2546.6 564.7 C2549.1 565.2 2550.7 563.2 2552.7 565.4 C2554.8 567.5 2558.8 572.2 2560.4 579.1 C2562.0 586.0 2562.3 601.8 2563.4 611.2 C2564.5 620.6 2567.1 637.2 2567.7 641.8"/>
<path d="M196.8 748.3 L198.6 764.3"/>
<path d="M240.8 742.6 C243.2 740.9 252.3 736.1 256.4 731.5 C260.5 726.8 264.7 715.3 268.0 711.5 C271.3 707.8 275.1 706.6 278.4 706.3 C281.7 706.1 286.7 708.0 290.0 710.0 C293.3 711.9 297.9 717.5 300.4 719.3 C302.9 721.1 305.9 721.5 306.9 721.9"/>
<path d="M291.8 772.1 C293.3 771.3 298.3 768.1 301.7 766.9 C305.1 765.8 311.5 765.6 314.6 764.3 C317.7 763.1 321.2 759.5 322.4 758.6"/>
<path d="M396.8 727.6 C398.2 727.2 403.2 727.2 405.9 725.0 C408.6 722.7 412.6 713.1 415.0 712.6 C417.3 712.0 419.3 718.1 421.4 721.1 C423.6 724.1 428.0 731.0 429.2 732.8"/>
<path d="M621.4 699.2 C623.4 700.8 630.9 706.7 634.4 709.6 C637.9 712.5 642.2 715.3 644.7 718.6 C647.2 721.9 649.1 728.7 651.2 731.6 C653.3 734.5 657.8 737.1 659.0 738.1"/>
<path d="M996.8 643.4 C997.7 642.9 1001.0 642.0 1002.8 640.3 C1004.5 638.6 1006.5 634.3 1008.5 632.0 C1010.5 629.6 1013.5 626.1 1016.2 624.7 C1019.0 623.3 1023.7 622.3 1026.6 622.7 C1029.5 623.0 1033.4 624.5 1035.7 627.3 C1037.9 630.1 1039.8 636.3 1041.6 641.6 C1043.4 646.8 1046.9 659.2 1047.8 662.3"/>
<path d="M1161.2 670.0 C1163.0 670.3 1169.4 671.8 1172.9 671.8 C1176.4 671.8 1181.2 670.9 1184.5 670.0 C1187.8 669.2 1192.0 666.0 1194.9 666.1 C1197.8 666.3 1202.0 669.4 1203.9 671.3 C1205.9 673.3 1207.2 677.9 1207.8 679.1"/>
<path d="M1246.0 661.0 C1247.4 663.4 1252.4 675.7 1255.1 677.0 C1257.8 678.4 1261.8 670.3 1264.1 670.0 C1266.5 669.8 1268.5 673.5 1270.6 675.2 C1272.8 676.9 1275.9 681.9 1278.4 681.2 C1280.9 680.4 1284.9 672.5 1287.4 670.0 C1290.0 667.6 1294.0 665.6 1295.2 664.9"/>
<path d="M1829.2 639.1 C1830.2 638.1 1833.3 634.0 1835.7 632.6 C1838.0 631.3 1842.2 630.0 1844.7 630.0 C1847.2 630.0 1850.2 631.1 1852.5 632.6 C1854.8 634.2 1857.7 638.4 1860.3 640.4 C1862.8 642.3 1866.8 645.1 1869.3 645.6 C1871.8 646.1 1875.5 647.8 1877.1 643.8 C1878.7 639.7 1879.3 627.0 1880.2 618.4 C1881.1 609.7 1882.6 590.9 1883.0 586.0"/>
<path d="M1883.6 584.7 C1884.7 582.0 1889.0 571.1 1891.3 566.6 C1893.7 562.1 1896.8 556.5 1899.1 555.0 C1901.4 553.4 1904.7 554.7 1906.9 556.2 C1909.0 557.8 1911.8 562.6 1913.3 565.3 C1914.9 568.0 1916.2 570.8 1917.2 574.4 C1918.2 578.0 1919.0 583.7 1920.1 589.4 C1921.1 595.1 1923.0 605.3 1924.2 612.4 C1925.4 619.6 1927.2 630.8 1928.3 637.0 C1929.5 643.2 1931.2 651.1 1931.7 653.6"/>
<path d="M2057.7 586.9 C2059.4 586.7 2066.4 586.8 2069.3 585.4 C2072.2 583.9 2075.0 580.1 2077.1 577.3 C2079.2 574.6 2082.6 568.5 2083.6 567.0"/>
<path d="M2033.1 595.7 C2034.6 597.7 2041.1 607.9 2043.4 608.7 C2045.8 609.4 2047.8 601.9 2048.6 600.6"/>
<path d="M2156.1 581.2 C2157.6 580.9 2163.7 582.1 2166.4 579.2 C2169.1 576.2 2172.0 566.2 2174.2 561.8 C2176.3 557.4 2179.7 551.5 2180.6 549.6"/>
<path d="M2323.7 526.9 C2324.9 526.1 2328.7 522.8 2331.5 521.7 C2334.2 520.5 2339.1 518.7 2341.8 519.1 C2344.5 519.5 2347.2 521.9 2349.6 524.3 C2351.9 526.6 2356.2 533.1 2357.3 534.6"/>
<path d="M2494.7 501.1 C2495.8 510.3 2499.8 543.0 2502.3 562.3 C2504.8 581.6 2509.1 612.4 2511.5 629.6 C2513.9 646.8 2518.2 676.9 2518.2 676.9 C2518.2 676.9 2523.3 628.4 2525.2 611.2 C2527.2 594.0 2529.5 574.2 2531.3 562.3 C2533.2 550.4 2535.8 538.6 2537.5 531.7 C2539.2 524.8 2541.6 515.5 2542.7 516.4 C2543.7 517.3 2546.6 534.0 2548.2 540.9 C2549.7 547.8 2551.1 556.8 2552.7 562.3 C2554.3 567.8 2557.9 575.3 2558.9 577.6"/>
</g>
<g stroke="#5887d8" opacity=".5">
<path d="M194.2 783.2 C196.0 781.7 202.8 772.3 205.9 772.9 C209.0 773.5 212.0 787.5 215.0 787.1 C217.9 786.7 222.0 775.9 225.3 770.3 C228.6 764.7 234.0 751.3 237.0 749.6 C239.9 747.8 242.2 756.7 244.7 758.6 C247.2 760.6 250.3 763.3 253.8 762.5 C257.3 761.7 264.5 752.7 268.0 753.5 C271.5 754.2 274.4 764.4 277.1 767.7 C279.8 771.0 283.6 774.7 286.1 775.5 C288.7 776.2 290.4 774.2 293.9 772.9 C297.4 771.5 305.2 768.5 309.4 766.4 C313.7 764.3 319.3 755.7 322.4 758.6 C325.5 761.6 328.2 781.6 330.2 785.8 C332.1 790.1 333.0 790.0 335.3 787.1 C337.7 784.3 343.2 770.2 345.7 766.9 C348.2 763.6 349.4 764.2 352.2 765.1 C354.9 766.0 360.5 773.1 363.8 772.9 C367.1 772.7 371.1 765.8 374.2 763.8 C377.3 761.9 381.8 761.9 384.5 759.9 C387.2 758.0 390.4 754.6 392.3 750.9 C394.2 747.2 395.4 738.9 397.5 735.3 C399.5 731.8 403.3 730.1 405.9 727.1 C408.5 724.0 412.4 715.8 415.0 715.1 C417.5 714.4 420.6 719.4 422.7 722.4 C424.9 725.4 427.2 731.5 429.2 735.3 C431.1 739.2 432.9 745.2 435.7 748.3 C438.4 751.4 444.0 758.4 447.3 756.1 C450.6 753.7 455.1 736.6 457.7 732.8 C460.2 728.9 462.4 730.0 464.1 730.2 C465.9 730.4 467.0 732.3 469.3 734.0 C471.7 735.8 476.4 743.0 479.7 741.8 C483.0 740.6 488.8 725.7 491.3 726.3 C493.9 726.9 494.0 735.0 496.5 745.7 C499.0 756.4 504.6 793.7 508.2 797.5 C511.7 801.2 517.2 772.2 521.1 771.6 C525.0 771.0 530.4 794.4 534.0 793.6 C537.7 792.8 542.2 776.7 545.7 766.4 C549.2 756.1 553.9 728.9 557.3 725.0 C560.8 721.1 565.7 736.8 569.0 740.5 C572.3 744.2 576.6 749.6 579.4 749.6 C582.1 749.6 584.8 745.8 587.1 740.5 C589.4 735.3 593.7 715.5 594.9 714.6 C596.1 713.7 597.8 727.9 599.4 731.6 C601.1 735.3 603.4 738.1 605.9 739.4 C608.4 740.6 613.5 741.8 616.2 739.9 C619.0 737.9 621.9 730.0 624.0 726.4 C626.1 722.8 628.2 717.9 630.5 716.1 C632.8 714.2 637.2 713.2 639.5 714.0 C641.9 714.8 644.3 717.4 646.0 721.2 C647.8 725.0 649.3 733.0 651.2 739.4 C653.1 745.7 657.2 764.0 658.7 763.7 C660.2 763.4 664.0 743.7 666.0 736.8 C667.9 729.8 670.0 718.3 671.9 717.3 C673.8 716.4 676.2 730.5 678.4 730.3 C680.5 730.1 683.6 720.5 686.1 716.1 C688.7 711.6 692.5 702.5 695.2 700.5 C697.9 698.6 701.9 704.9 704.3 703.1 C706.6 701.4 708.2 691.5 710.7 688.9 C713.3 686.2 718.2 684.9 721.1 685.5 C724.0 686.1 727.8 688.2 730.2 692.8 C732.5 697.3 734.7 711.2 736.6 716.1 C738.6 720.9 740.8 724.3 743.1 725.1 C745.4 725.9 749.1 721.0 752.2 721.2 C755.3 721.5 760.7 727.3 763.8 726.9 C766.9 726.5 770.6 720.3 772.9 718.6 C775.2 717.0 777.2 716.1 779.4 716.1 C781.5 716.1 784.8 719.8 787.1 718.6 C789.4 717.5 792.9 710.2 794.9 708.3 C796.8 706.3 798.4 705.7 800.1 705.7 C801.7 705.7 803.1 709.4 805.9 708.3 C808.7 707.1 815.5 698.7 818.8 697.9 C822.1 697.2 824.8 703.3 827.9 703.1 C831.0 702.9 836.1 697.2 839.5 696.6 C843.0 696.1 848.1 697.1 851.2 699.2 C854.3 701.4 857.3 707.6 860.3 710.9 C863.2 714.2 867.5 719.9 870.6 721.2 C873.7 722.6 877.9 720.4 881.0 719.9 C884.1 719.5 888.4 717.5 891.3 718.1 C894.2 718.7 897.3 720.1 900.4 723.8 C903.5 727.6 908.9 744.4 912.0 743.2 C915.1 742.1 918.6 725.2 921.1 716.1 C923.6 706.9 927.6 682.9 928.9 682.4 C930.2 681.9 934.7 706.7 936.6 709.6 C938.6 712.5 939.9 701.6 941.8 701.8 C943.8 702.0 946.9 707.0 949.6 710.9 C952.3 714.8 957.0 726.5 959.9 727.7 C962.8 728.9 966.5 718.1 969.0 718.6 C971.5 719.2 974.4 731.4 976.8 731.6 C979.1 731.8 982.8 721.5 984.5 719.9 C986.3 718.4 987.2 721.4 988.4 721.2 C989.6 721.0 990.6 724.1 992.3 718.6 C994.0 713.2 998.6 691.7 1000.1 685.0 C1001.5 678.3 1000.7 679.5 1002.0 673.9 C1003.3 668.4 1006.5 654.2 1008.5 648.0 C1010.4 641.8 1012.2 636.0 1015.0 632.5 C1017.7 629.0 1022.7 623.8 1026.6 624.7 C1030.5 625.7 1037.7 634.3 1040.8 639.0 C1044.0 643.6 1045.7 654.4 1047.8 655.8 C1050.0 657.2 1052.2 653.3 1055.1 648.0 C1057.9 642.8 1063.4 620.8 1066.7 620.8 C1070.0 620.8 1075.1 641.2 1077.1 648.0 C1079.0 654.8 1078.1 659.9 1079.7 666.1 C1081.2 672.4 1084.9 682.5 1087.4 689.4 C1090.0 696.4 1094.0 710.6 1096.5 712.8 C1099.0 714.9 1102.3 701.7 1104.3 703.7 C1106.2 705.6 1107.5 718.5 1109.4 725.7 C1111.4 732.9 1115.7 751.3 1117.2 751.6 C1118.7 751.9 1121.7 736.8 1123.7 728.3 C1125.6 719.7 1128.2 700.6 1130.2 694.6 C1132.1 688.6 1134.7 694.0 1136.6 688.2 C1138.6 682.3 1141.6 661.8 1143.1 655.8 C1144.7 649.8 1145.4 646.1 1147.0 648.0 C1148.5 650.0 1151.3 661.0 1153.5 668.7 C1155.6 676.5 1159.5 692.8 1161.2 699.8 C1163.0 706.8 1164.4 716.8 1165.1 715.3 C1165.8 713.9 1170.2 686.4 1172.9 676.5 C1175.6 666.6 1180.5 650.5 1183.2 649.3 C1186.0 648.2 1188.7 662.3 1191.0 668.7 C1193.3 675.1 1196.5 686.8 1198.8 692.0 C1201.0 697.3 1203.3 704.9 1205.9 703.7 C1208.5 702.5 1213.7 684.1 1216.2 684.3 C1218.8 684.5 1220.8 698.8 1222.7 705.0 C1224.7 711.2 1227.9 726.2 1229.2 725.7 C1230.5 725.2 1233.9 704.9 1235.7 699.8 C1237.4 694.8 1239.3 696.3 1240.8 692.0 C1242.4 687.8 1244.7 675.8 1246.0 671.3 C1247.4 666.9 1248.2 662.7 1249.9 662.3 C1251.7 661.9 1255.3 668.0 1257.7 668.7 C1260.0 669.5 1263.5 667.1 1265.4 667.4 C1267.4 667.8 1268.7 671.9 1270.6 671.3 C1272.6 670.7 1276.1 664.7 1278.4 663.6 C1280.7 662.4 1284.0 664.5 1286.1 663.6 C1288.3 662.6 1290.9 655.5 1292.6 657.1 C1294.4 658.6 1296.1 665.2 1297.8 673.9 C1299.5 682.7 1301.7 701.6 1304.3 715.3 C1306.8 729.1 1313.2 765.5 1314.6 765.8 C1316.1 766.2 1324.5 720.1 1326.3 720.5 C1328.0 720.9 1337.0 770.8 1337.9 771.0 C1338.8 771.2 1343.8 736.8 1345.7 725.7 C1347.6 714.6 1348.9 702.5 1350.9 697.2 C1352.8 692.0 1356.3 693.7 1358.6 690.7 C1361.0 687.8 1364.1 685.8 1366.4 677.8 C1368.7 669.8 1372.7 646.3 1374.2 637.7 C1375.7 629.0 1374.2 649.5 1376.5 620.1 C1379.5 590.6 1394.0 441.4 1394.0 441.4 C1394.0 441.4 1405.0 586.7 1407.4 620.1 C1409.8 653.4 1408.8 650.8 1409.8 663.6 C1410.7 676.3 1412.1 696.2 1413.7 705.0 C1415.2 713.7 1418.1 722.9 1420.1 721.8 C1422.1 720.7 1425.8 704.2 1427.9 697.2 C1430.0 690.2 1433.3 674.6 1434.4 675.2 C1435.4 675.8 1439.1 695.1 1440.8 705.0 C1442.6 714.9 1444.5 732.1 1446.0 741.2 C1447.6 750.4 1450.7 765.9 1451.2 765.8 C1451.7 765.7 1454.8 747.4 1456.4 738.6 C1457.9 729.9 1459.6 713.2 1461.6 707.6 C1463.5 701.9 1466.8 704.2 1469.3 701.1 C1471.8 698.0 1475.9 689.8 1478.4 686.9 C1480.9 683.9 1483.6 681.9 1486.1 681.7 C1488.7 681.5 1492.9 685.6 1495.2 685.6 C1497.5 685.6 1499.5 682.7 1501.7 681.7 C1503.8 680.7 1507.5 681.8 1509.4 679.1 C1511.4 676.4 1512.9 669.2 1514.6 663.6 C1516.4 657.9 1518.8 644.7 1521.1 641.6 C1523.4 638.4 1527.6 645.0 1530.2 642.8 C1532.7 640.7 1535.6 626.5 1537.9 627.3 C1540.3 628.1 1543.0 641.8 1545.7 648.0 C1548.4 654.2 1553.7 661.7 1556.1 668.7 C1558.4 675.7 1559.5 687.8 1561.2 694.6 C1563.0 701.4 1565.9 714.7 1567.7 714.0 C1569.5 713.4 1573.1 699.4 1575.5 689.4 C1577.8 679.5 1581.1 657.3 1583.2 648.0 C1585.4 638.7 1587.2 633.3 1589.7 627.3 C1592.2 621.3 1597.2 608.3 1600.1 607.9 C1602.9 607.5 1605.5 620.3 1608.5 624.7 C1611.5 629.2 1616.8 637.9 1620.1 637.7 C1623.4 637.5 1627.4 625.8 1630.5 623.4 C1633.6 621.1 1638.3 620.4 1640.8 622.1 C1643.4 623.9 1645.2 629.3 1647.3 635.1 C1649.4 640.9 1652.2 655.9 1655.1 661.0 C1658.0 666.0 1663.4 668.9 1666.7 668.7 C1670.0 668.5 1674.8 661.6 1677.1 659.7 C1679.4 657.7 1680.9 652.5 1682.3 655.8 C1683.6 659.1 1684.8 673.5 1686.1 681.7 C1687.5 689.8 1690.4 709.6 1691.3 710.2 C1692.2 710.8 1695.9 695.1 1697.8 689.4 C1699.7 683.8 1703.1 670.3 1704.3 672.6 C1705.4 674.9 1707.6 689.2 1710.7 715.3 C1713.8 741.4 1724.9 846.6 1724.9 846.6 C1724.9 846.6 1732.3 743.7 1734.0 720.5 C1735.8 697.3 1736.0 693.5 1736.6 692.0 C1737.3 690.6 1740.1 701.4 1741.8 703.7 C1743.6 706.0 1746.3 707.8 1748.3 707.6 C1750.2 707.4 1752.8 703.0 1754.8 702.4 C1756.7 701.8 1759.1 705.0 1761.2 703.7 C1763.4 702.3 1766.9 693.1 1769.0 693.3 C1771.1 693.5 1773.3 701.5 1775.5 705.0 C1777.6 708.5 1780.7 715.7 1783.2 716.6 C1785.8 717.6 1788.9 716.1 1792.3 711.5 C1795.7 706.8 1802.9 693.4 1805.9 685.7 C1808.9 677.9 1810.4 665.6 1812.4 659.8 C1814.3 654.0 1817.1 647.2 1818.8 646.9 C1820.6 646.5 1822.3 653.3 1824.0 657.2 C1825.8 661.1 1828.2 670.6 1830.5 672.8 C1832.8 674.9 1836.6 672.0 1839.5 671.5 C1842.5 670.9 1847.4 667.9 1849.9 668.9 C1852.4 669.8 1854.2 674.4 1856.4 677.9 C1858.5 681.4 1862.0 692.6 1864.1 692.2 C1866.3 691.8 1868.9 680.0 1870.6 675.3 C1872.4 670.7 1873.7 663.4 1875.8 661.1 C1877.9 658.8 1882.7 662.7 1884.9 659.8 C1887.0 656.9 1888.5 647.1 1890.0 641.7 C1891.6 636.2 1893.7 626.9 1895.2 623.6 C1896.8 620.3 1898.8 622.4 1900.4 619.7 C1901.9 617.0 1904.0 609.9 1905.6 605.4 C1907.1 601.0 1910.1 588.4 1910.7 589.9 C1911.4 591.4 1914.2 614.4 1915.9 628.7 C1917.7 643.1 1920.5 670.2 1922.4 685.7 C1924.3 701.2 1928.8 732.3 1928.9 732.3 C1928.9 732.3 1933.6 698.9 1935.3 685.7 C1937.1 672.5 1939.0 653.0 1940.5 644.3 C1942.1 635.5 1943.9 627.8 1945.7 627.4 C1947.4 627.1 1950.2 640.3 1952.2 641.7 C1954.1 643.0 1956.7 638.4 1958.6 636.5 C1960.6 634.6 1963.2 634.6 1965.1 628.7 C1967.1 622.9 1969.6 608.9 1971.6 597.7 C1973.5 586.4 1976.1 562.2 1978.1 553.7 C1980.0 545.1 1982.7 543.0 1984.5 540.7 C1986.4 538.5 1988.9 537.1 1990.2 538.6 C1991.6 540.2 1992.5 542.2 1993.6 551.1 C1994.7 559.9 1996.0 579.9 1997.5 597.7 C1998.9 615.4 2001.2 646.4 2003.3 669.3 C2005.4 692.1 2011.6 749.8 2011.6 749.8 C2011.6 749.8 2017.0 714.0 2018.8 695.4 C2020.7 676.8 2022.5 641.1 2024.0 625.5 C2025.6 609.9 2026.5 599.2 2029.2 591.6 C2031.9 584.0 2038.8 576.7 2042.1 574.8 C2045.4 572.8 2048.9 578.1 2051.2 578.6 C2053.5 579.2 2055.9 581.4 2057.7 578.6 C2059.4 575.9 2060.9 564.8 2062.8 560.5 C2064.8 556.2 2068.3 549.8 2070.6 550.2 C2072.9 550.6 2076.4 560.0 2078.4 563.1 C2080.3 566.2 2082.4 567.2 2083.6 570.9 C2084.7 574.6 2086.0 587.8 2086.1 587.7 C2086.3 587.6 2088.5 569.3 2090.0 565.7 C2091.6 562.1 2094.4 562.1 2096.5 563.6 C2098.6 565.2 2101.9 572.6 2104.3 576.1 C2106.6 579.5 2109.7 583.9 2112.0 586.4 C2114.4 588.9 2117.5 594.4 2119.8 592.9 C2122.1 591.3 2125.2 580.3 2127.6 576.1 C2129.9 571.8 2133.2 566.5 2135.3 564.4 C2137.5 562.3 2139.5 560.1 2141.8 561.8 C2144.1 563.6 2148.3 573.5 2150.9 576.1 C2153.4 578.6 2156.3 580.2 2158.6 578.6 C2161.0 577.1 2163.7 569.6 2166.4 565.7 C2169.1 561.8 2174.0 555.7 2176.8 552.8 C2179.5 549.8 2181.8 547.1 2184.5 546.3 C2187.2 545.5 2192.3 543.1 2194.9 547.6 C2197.5 552.0 2199.8 566.3 2202.0 576.1 C2204.2 585.8 2208.8 613.4 2209.8 612.8 C2210.8 612.2 2219.0 567.2 2220.1 565.7 C2221.3 564.2 2224.5 582.9 2226.6 591.6 C2228.7 600.3 2232.9 624.0 2233.9 623.7 C2234.8 623.4 2239.9 595.1 2242.1 586.4 C2244.3 577.7 2246.3 570.0 2248.6 565.7 C2250.9 561.4 2254.4 561.6 2257.7 557.9 C2261.0 554.2 2267.5 542.7 2270.6 541.1 C2273.7 539.5 2276.2 546.0 2278.4 547.6 C2280.5 549.1 2283.5 554.2 2284.9 551.5 C2286.2 548.7 2286.3 533.7 2287.4 529.4 C2288.6 525.2 2290.9 521.4 2292.6 523.0 C2294.4 524.5 2297.3 533.8 2299.1 539.8 C2300.8 545.8 2302.7 557.7 2304.3 563.1 C2305.8 568.5 2307.8 577.2 2309.4 576.1 C2311.1 574.9 2313.8 563.1 2315.9 555.3 C2318.1 547.6 2321.2 529.3 2323.7 524.3 C2326.2 519.2 2330.0 522.4 2332.8 521.7 C2335.5 521.0 2339.1 518.8 2341.8 519.6 C2344.5 520.4 2348.3 524.2 2350.9 526.9 C2353.4 529.5 2356.7 531.4 2358.6 537.2 C2360.6 543.0 2361.9 561.6 2363.8 565.7 C2365.8 569.8 2369.3 566.3 2371.6 564.4 C2373.9 562.5 2377.0 551.0 2379.4 552.8 C2381.7 554.5 2384.8 568.7 2387.1 576.1 C2389.4 583.4 2392.4 594.8 2394.9 601.9 C2397.4 609.1 2401.5 623.4 2403.8 623.4 C2406.2 623.5 2408.6 609.4 2410.6 602.0 C2412.5 594.7 2414.4 580.5 2416.7 574.5 C2419.0 568.6 2423.8 568.7 2425.9 562.3 C2427.9 555.9 2428.8 543.2 2430.4 531.7 C2432.1 520.3 2435.0 494.8 2436.6 485.9 C2438.2 476.9 2439.4 471.2 2441.1 472.1 C2442.9 473.0 2446.3 486.2 2448.8 492.0 C2451.3 497.7 2455.2 506.4 2458.0 510.3 C2460.7 514.2 2464.6 518.2 2467.1 518.0 C2469.7 517.7 2472.5 511.8 2474.8 508.8 C2477.1 505.8 2480.1 499.9 2482.4 498.1 C2484.7 496.3 2488.9 496.8 2490.1 496.6"/>
<path d="M607.2 710.9 C608.0 709.4 610.8 703.1 612.4 701.0 C613.9 699.0 615.6 697.1 617.5 697.4 C619.5 697.7 623.2 700.8 625.3 703.1 C627.4 705.4 630.8 711.5 631.8 712.9"/>
<path d="M1194.9 664.9 C1196.8 665.2 1205.3 666.1 1207.8 667.4 C1210.4 668.8 1211.1 672.9 1211.7 673.9"/>
<path d="M1190.4 664.9 C1191.9 665.0 1197.7 665.2 1200.7 665.6 C1203.7 666.0 1209.1 667.2 1210.6 667.4"/>
<path d="M2044.7 608.7 C2045.9 608.5 2050.6 610.5 2052.5 607.4 C2054.4 604.3 2056.9 590.9 2057.7 588.0"/>
</g></g>
</svg>
</body>
</html>
